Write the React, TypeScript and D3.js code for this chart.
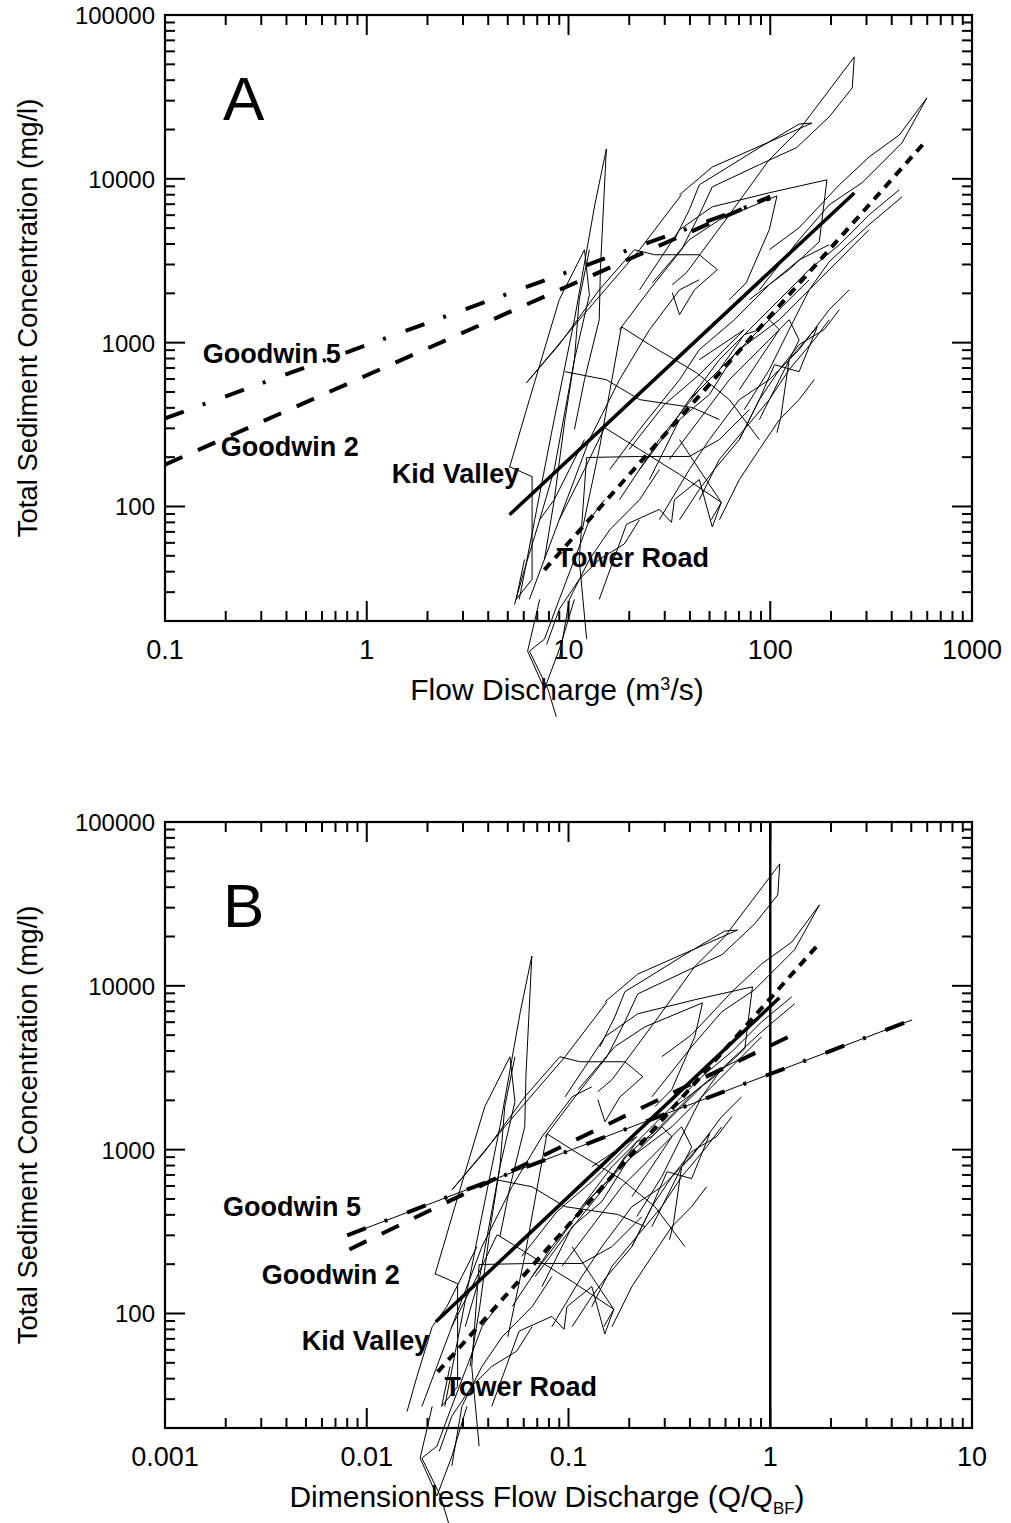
import React from 'react';
import * as d3 from 'd3';

const FONT = "'Liberation Sans', Arial, Helvetica, sans-serif";

// Bankfull discharge (m3/s) used to normalise panel B
const QBF_KV = 234;
const QBF_TR = 341;

// Storm-event hysteresis traces: [Q (m3/s), C (mg/l)]
const ev01: [number, number][] = [[5.7,27.1],[6.8,83],[8.3,295],[10.7,1380],[13.5,6940],[15.4,15200],[14.4,2860],[14.2,1380],[12.0,594],[10.7,295]];
const ev02: [number, number][] = [[17.9,1200],[25.2,2100],[36.3,3690],[44.5,6030],[51.6,8930],[88.3,12200],[135,15500],[196,23900],[255,35900],[261,55500],[139,19900],[98.9,13100],[62.7,6030],[38.4,2670],[32.7,2260]];
const ev03: [number, number][] = [[35.5,7990],[51.6,11800],[161,21900],[139,21600],[88.3,15500],[44.5,9190],[39.7,6470],[33.5,4250]];
const ev04: [number, number][] = [[88.3,2100],[139,4250],[196,6940],[285,9460],[450,16600],[598,31200],[436,18500],[309,13600],[220,9190],[139,5030],[98.9,3690]];
const ev05: [number, number][] = [[450,7760],[309,5250],[196,3120],[156,2100],[124,1200],[98.9,684],[74.3,390]];
const ev06: [number, number][] = [[70.3,256],[88.3,449],[105,734],[139,665],[171,1250],[124,787],[113,354],[108,282]];
const ev07: [number, number][] = [[22.5,2100],[35.5,4890],[51.6,6750],[98.9,8220],[191,9860],[175,4130],[124,2790],[78.8,1830]];
const ev08: [number, number][] = [[26.1,2320],[39.7,4250],[56,5620],[108,7870],[98.9,4890],[76,2320],[62.7,1830]];
const ev09: [number, number][] = [[6.2,570],[9.0,973],[14.2,2100],[21.2,3690],[26.7,3440],[44.5,3440],[54.7,2790],[42.1,2100],[35.5,1480],[32.7,2020]];
const ev10: [number, number][] = [[5.1,173],[6.4,449],[9.0,1830],[12.0,3690],[12.7,1960],[10.7,787],[8.5,168],[7.2,83]];
const ev11: [number, number][] = [[9.6,665],[15.4,594],[22.5,449],[41.1,402],[56,339]];
const ev12: [number, number][] = [[11.7,72],[14.2,223],[18.3,1250],[25.2,973],[43,656],[62.7,449],[88.3,256]];
const ev13: [number, number][] = [[12.3,15.5],[11.3,47.5],[12.3,199],[22.5,202],[39.7,202],[56,256],[78.8,390]];
const ev14: [number, number][] = [[14.2,27.1],[19.4,78],[28.2,96],[32.4,80],[33.5,110],[44.5,146],[51.6,75],[57.2,106],[44.5,168],[35.5,256]];
const ev15: [number, number][] = [[9.0,83],[12.0,168],[15.1,303],[22.5,223],[35.5,157],[57.2,106],[51,83]];
const ev16: [number, number][] = [[17.9,110],[28.2,256],[44.5,516],[70.3,906],[111,1380],[175,2420],[246,3690],[309,4890]];
const ev17: [number, number][] = [[22.5,168],[31.6,295],[39.7,449],[56,684],[74.3,1120],[88.3,1200],[124,1830],[156,2420]];
const ev18: [number, number][] = [[25.2,146],[35.5,339],[49.9,482],[66.4,845],[98.9,1380],[111,1200],[88.3,787],[70.3,516]];
const ev19: [number, number][] = [[20,223],[29.9,419],[44.5,638],[62.7,973],[74.3,1200],[44.5,787]];
const ev20: [number, number][] = [[16,168],[22.5,295],[35.5,594],[44.5,906],[66.4,1380],[98.9,2260],[139,3200],[196,3960]];
const ev21: [number, number][] = [[28.2,83],[39.7,168],[49.9,256],[70.3,449],[98.9,594],[139,906],[196,1590],[246,2100]];
const ev22: [number, number][] = [[8.7,5.2],[7.9,7.7],[6.4,13.1],[7.6,15.5],[9.0,27.1],[10.7,47.5],[12.7,83],[15.1,110]];
const ev23: [number, number][] = [[5.4,25.2],[6.05,41.3],[7.2,83],[8.5,110],[10.1,168],[12.0,256]];
const ev24: [number, number][] = [[7.8,14.4],[9.0,23.6],[11.3,35.9],[14.2,47.5],[18.9,59],[22.5,83]];
const ev25: [number, number][] = [[5.1,175],[6.6,152],[6.6,35.9],[5.5,27.1],[6.05,47.5]];
const ev26: [number, number][] = [[6.2,570],[11.3,1380],[22.5,3690],[36.3,7990]];
const ev27: [number, number][] = [[6.4,27.1],[9.0,83],[12.7,256],[17.9,594],[25.2,1200],[35.5,2100],[44.5,2420]];
const ev28: [number, number][] = [[39.7,449],[56,787],[78.8,1200],[111,1830],[156,2790],[220,3960],[309,6030],[436,8570]];
const ev29: [number, number][] = [[31.6,194],[44.5,339],[62.7,594],[88.3,906],[124,1380],[139,1040],[111,594],[88.3,339]];
const ev30: [number, number][] = [[44.5,110],[56,194],[74.3,295],[98.9,449],[124,684],[165,1040],[196,1380]];
const ev31: [number, number][] = [[7.6,47.5],[8.5,110],[9.6,339],[10.7,787],[11.3,1830],[12.7,3690]];
const ev32: [number, number][] = [[9.0,11.7],[10.1,27.1],[12.7,47.5],[16.0,72],[22.5,110],[28.2,168]];
const ev33: [number, number][] = [[56,83],[70.3,146],[88.3,223],[111,339],[139,449],[165,594]];
const ev34: [number, number][] = [[35.5,83],[44.5,127],[52.8,168],[70.3,256],[88.3,449],[111,684],[139,973],[185,1200],[220,1590]];
const ev35: [number, number][] = [[7.2,27.1],[6.27,13.1],[7.6,7.7],[9.0,13.4],[10.7,27.1]];

const eventTraces = [ev01, ev02, ev03, ev04, ev05, ev06, ev07, ev08, ev09, ev10, ev11, ev12, ev13,
  ev14, ev15, ev16, ev17, ev18, ev19, ev20, ev21, ev22, ev23, ev24, ev25, ev26,
  ev27, ev28, ev29, ev30, ev31, ev32, ev33, ev34, ev35];
const eventSites = ['KV','KV','KV','TR','TR','TR','KV','KV','KV','KV','KV','KV','TR',
  'TR','TR','TR','TR','TR','TR','KV','TR','TR','TR','TR','KV','KV',
  'TR','TR','TR','TR','KV','TR','TR','TR','TR'];

// Rating-curve fits, panel A (Q in m3/s)
const goodwin5A: [number, number][] = [[0.1,345],[100,7600]];
const goodwin2A: [number, number][] = [[0.1,180],[100,7800]];
const kidValleyA: [number, number][] = [[5.1,89],[261,8200]];
const towerRoadA: [number, number][] = [[7.6,41],[598,17300]];
// Rating-curve fits, panel B (Q/QBF)
const goodwin5B: [number, number][] = [[0.008,300],[5.05,6200]];
const goodwin2B: [number, number][] = [[0.0082,246],[1.39,5250]];
const kidValleyB: [number, number][] = [[0.022,89],[1.11,8450]];
const towerRoadB: [number, number][] = [[0.0225,44],[1.69,17300]];

// Curve labels (anchor in data space)
const labelNames = ['Goodwin 5', 'Goodwin 2', 'Kid Valley', 'Tower Road'];
const labelPosA: [number, number][] = [[0.154,755],[0.189,202],[1.33,140],[8.72,42.5]];
const labelPosB: [number, number][] = [[0.00194,396],[0.00302,152],[0.00476,59.5],[0.0243,31.2]];

// Axis tick labels
const xTickValsA = [0.1, 1, 10, 100, 1000];
const xTickLabsA = ['0.1', '1', '10', '100', '1000'];
const xTickValsB = [0.001, 0.01, 0.1, 1, 10];
const xTickLabsB = ['0.001', '0.01', '0.1', '1', '10'];
const yTickVals = [100, 1000, 10000, 100000];
const yTickLabs = ['100', '1000', '10000', '100000'];

const X0 = 165, X1 = 972;

type Fit = { pts: [number, number][]; dash?: string; w: number; thin?: boolean };

function Panel(props: {
  top: number; bottom: number; xDomain: [number, number];
  xVals: number[]; xLabs: string[]; qScale: (site: string) => number;
  fits: Fit[]; labelPos: [number, number][]; letter: string;
  xTitle: React.ReactNode; xTitleX: number; vline?: number;
}) {
  const { top, bottom } = props;
  const x = d3.scaleLog().domain(props.xDomain).range([X0, X1]);
  const y = d3.scaleLog().domain([20, 100000]).range([bottom, top]);
  const line = d3.line<[number, number]>().x(d => x(d[0])).y(d => y(d[1]));
  const isMajor = (v: number) => Math.abs(Math.log10(v) - Math.round(Math.log10(v))) < 1e-9;
  const xt = x.ticks();
  const yt = y.ticks();
  return (
    <g>
      {labelNames.map((n, i) => (
        <text key={n} x={x(props.labelPos[i][0])} y={y(props.labelPos[i][1])}
          fontFamily={FONT} fontWeight="bold" fontSize={27}>{n}</text>
      ))}
      <text x={X0 + 58} y={top + 105} fontFamily={FONT} fontSize={62}>{props.letter}</text>
      {eventTraces.map((ev, i) => {
        const s = props.qScale(eventSites[i]);
        const pts = ev.map(d => [d[0] / s, d[1]] as [number, number]);
        return <path key={i} d={line(pts) || ''} fill="none" stroke="#000" strokeWidth={1} strokeLinejoin="miter" />;
      })}
      {props.fits.map((f, i) => (
        <g key={i}>
          {f.thin && <path d={line(f.pts) || ''} stroke="#000" strokeWidth={1} fill="none" />}
          <path d={line(f.pts) || ''} stroke="#000" strokeWidth={f.w} fill="none"
            strokeDasharray={f.dash} strokeLinecap="butt" />
        </g>
      ))}
      {props.vline !== undefined && (
        <line x1={x(props.vline)} x2={x(props.vline)} y1={top} y2={bottom} stroke="#000" strokeWidth={2.5} />
      )}
      <rect x={X0} y={top} width={X1 - X0} height={bottom - top} fill="none" stroke="#000" strokeWidth={2.2} />
      {xt.map((v, i) => {
        const L = isMajor(v) ? 20 : 10;
        const px = x(v);
        return (
          <g key={'x' + i}>
            <line x1={px} x2={px} y1={bottom} y2={bottom - L} stroke="#000" strokeWidth={2} />
            <line x1={px} x2={px} y1={top} y2={top + L} stroke="#000" strokeWidth={2} />
          </g>
        );
      })}
      {yt.map((v, i) => {
        const L = isMajor(v) ? 20 : 10;
        const py = y(v);
        return (
          <g key={'y' + i}>
            <line x1={X0} x2={X0 + L} y1={py} y2={py} stroke="#000" strokeWidth={2} />
            <line x1={X1} x2={X1 - L} y1={py} y2={py} stroke="#000" strokeWidth={2} />
          </g>
        );
      })}
      {props.xVals.map((v, i) => (
        <text key={'xl' + i} x={x(v)} y={bottom + 38} textAnchor="middle" fontFamily={FONT} fontSize={27}>{props.xLabs[i]}</text>
      ))}
      {yTickVals.map((v, i) => (
        <text key={'yl' + i} x={155} y={y(v) + 9} textAnchor="end" fontFamily={FONT} fontSize={24}>{yTickLabs[i]}</text>
      ))}
      <text transform={`translate(37,${(top + bottom) / 2}) rotate(-90)`} textAnchor="middle"
        fontFamily={FONT} fontSize={27.5}>Total Sediment Concentration (mg/l)</text>
      <text x={props.xTitleX} y={bottom + 79} textAnchor="middle" fontFamily={FONT} fontSize={30}>{props.xTitle}</text>
    </g>
  );
}

export default function App() {
  const G5 = '20,20,3,21';
  const G2 = '19,17';
  const TR = '9,7';
  return (
    <svg width={1011} height={1523} style={{ position: 'absolute', left: 0, top: 0, background: '#fff' }}>
      <rect x={0} y={0} width={1011} height={1523} fill="#fff" />
      <Panel top={15} bottom={621} xDomain={[0.1, 1000]} xVals={xTickValsA} xLabs={xTickLabsA}
        qScale={() => 1} labelPos={labelPosA} letter="A" xTitleX={557}
        fits={[
          { pts: goodwin5A, dash: G5, w: 4 },
          { pts: goodwin2A, dash: G2, w: 4 },
          { pts: kidValleyA, w: 3.5 },
          { pts: towerRoadA, dash: TR, w: 4 },
        ]}
        xTitle={<>Flow Discharge (m<tspan fontSize={18} dy={-10}>3</tspan><tspan dy={10}>/s)</tspan></>} />
      <Panel top={822} bottom={1428} xDomain={[0.001, 10]} xVals={xTickValsB} xLabs={xTickLabsB}
        qScale={(s) => (s === 'KV' ? QBF_KV : QBF_TR)} labelPos={labelPosB} letter="B" xTitleX={547} vline={1}
        fits={[
          { pts: goodwin5B, dash: G5, w: 4, thin: true },
          { pts: goodwin2B, dash: G2, w: 4 },
          { pts: kidValleyB, w: 3.5 },
          { pts: towerRoadB, dash: TR, w: 4 },
        ]}
        xTitle={<>Dimensionless Flow Discharge (Q/Q<tspan fontSize={17} dy={7}>BF</tspan><tspan dy={-7}>)</tspan></>} />
    </svg>
  );
}
